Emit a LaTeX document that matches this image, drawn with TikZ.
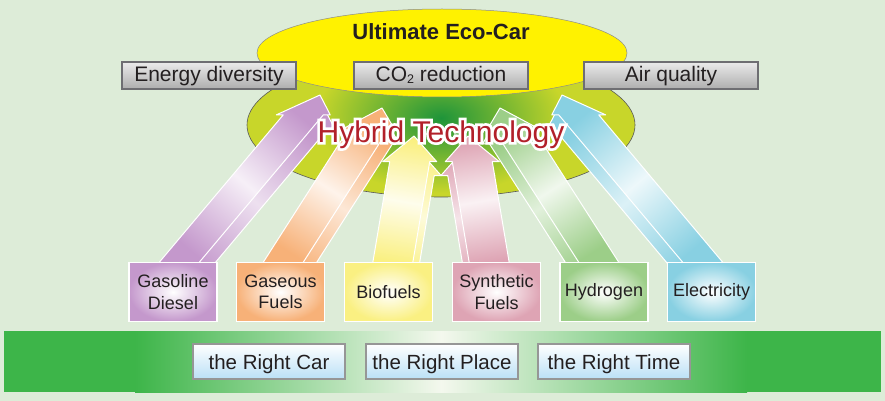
\documentclass[tikz,border=0pt]{standalone}
\usepackage{fontspec}
\setmainfont{Liberation Sans}
\newfontfamily\glowfont[FakeBold=18]{Liberation Sans}
\usetikzlibrary{calc,shapes.geometric}
\pgfdeclarelayer{backlayer}
\pgfdeclarelayer{arrowlayer}
\pgfsetlayers{backlayer,arrowlayer,main}

\definecolor{bgc}{RGB}{221,236,216}
\definecolor{ecoyellow}{RGB}{255,242,0}
\definecolor{olivec}{RGB}{200,214,42}
\definecolor{glowgreen}{RGB}{30,148,58}
\definecolor{hybridred}{RGB}{178,32,42}
\definecolor{purplec}{RGB}{196,152,204}
\definecolor{orangec}{RGB}{247,177,120}
\definecolor{yellowc}{RGB}{250,240,130}
\definecolor{pinkc}{RGB}{222,164,180}
\definecolor{greenc}{RGB}{156,206,136}
\definecolor{cyanc}{RGB}{136,208,226}
\definecolor{bandgreen}{RGB}{61,181,73}
\definecolor{bandwhite}{RGB}{244,248,238}
\definecolor{topborder}{RGB}{110,110,114}
\definecolor{boxblue}{RGB}{186,224,246}
\definecolor{boxgray}{RGB}{150,150,150}
\definecolor{textdark}{RGB}{35,31,32}

\newcommand\arrowoutline[3]{($(#1)+(-20,0)+(#3)$) -- ($(h)+(-20,0)+(#3)$) -- ($(h)+(-27,0)+(#3)$) -- ($(#2)+(#3)$) -- ($(h)+(27,0)+(#3)$) -- ($(h)+(20,0)+(#3)$) -- ($(#1)+(20,0)+(#3)$) -- cycle}
\newcommand\fuelarrow[5]{%
  \coordinate (h) at ($(#2)!26pt!(#1)$);
  \shadedraw[top color=#3, bottom color=#3, middle color=#3!30!white, shading angle=#4, draw=white, line width=1pt, line join=round] \arrowoutline{#1}{#2}{#5};
  \shadedraw[top color=#3, bottom color=#3, middle color=#3!15!white, shading angle=#4, draw=white, line width=1pt, line join=round] \arrowoutline{#1}{#2}{0,0};
}

\begin{document}
\begin{tikzpicture}[x=1pt,y=1pt,
  topbox/.style={draw=topborder, line width=1.8pt, top color=white!92!black, bottom color=white!68!black, minimum width=174pt, minimum height=27pt, inner sep=0pt, font=\fontsize{21}{21}\selectfont, text=textdark, text height=15pt, text depth=2pt},
  fuelbox/.style={draw=white, line width=1.3pt, inner color=white, minimum width=88pt, minimum height=59pt, inner sep=0pt, align=center, font=\fontsize{18}{21.5}\selectfont, text=textdark},
  rightbox/.style={draw=boxgray, line width=1.5pt, top color=white, bottom color=boxblue, minimum width=152pt, minimum height=35pt, inner sep=0pt, font=\fontsize{20.5}{20.5}\selectfont, text=textdark, text height=17pt, text depth=2pt},
]
\useasboundingbox (0,0) rectangle (885,-401);
\begin{pgfonlayer}{backlayer}
  \fill[bgc] (0,0) rectangle (885,-401);
  \node[ellipse, fill=olivec, minimum width=388pt, minimum height=144pt, inner sep=0pt] (hyb) at (441,-125) {};
  \begin{scope}
    \clip (441,-125) ellipse (194 and 72);
    \shade[inner color=glowgreen, outer color=olivec] (441,-118) ellipse (125 and 75);
  \end{scope}
  \draw[black!65, line width=0.6pt] (441,-125) ellipse (194 and 72);
  \node[ellipse, fill=ecoyellow, draw=black!45, line width=0.5pt, minimum width=370pt, minimum height=88pt, inner sep=0pt] (eco) at (442,-53) {};
\end{pgfonlayer}

\node[font=\bfseries\fontsize{22}{22}\selectfont, text=textdark, anchor=base] (ecolabel) at (441,-40) {Ultimate Eco-Car};

\node[topbox] (energy) at (209,-75.5) {Energy diversity};
\node[topbox] (co2) at (441,-75.5) {CO\raisebox{-1.5pt}{\fontsize{12.5}{12.5}\selectfont 2} reduction};
\node[topbox] (air) at (671,-75.5) {Air quality};

\node[font=\glowfont\fontsize{30}{30}\selectfont, text=white, anchor=base] (hybridglow) at (441,-142) {Hybrid Technology};
\node[font=\fontsize{30}{30}\selectfont, text=hybridred, anchor=base] (hybrid) at (441,-142) {Hybrid Technology};

\node[fuelbox, outer color=purplec] (gas) at (173,-292) {Gasoline\\Diesel};
\node[fuelbox, outer color=orangec] (gaseous) at (280.5,-292) {Gaseous\\Fuels};
\node[fuelbox, outer color=yellowc] (bio) at (388.5,-292) {Biofuels};
\node[fuelbox, outer color=pinkc] (synth) at (496.5,-292) {Synthetic\\Fuels};
\node[fuelbox, outer color=greenc] (hydro) at (604,-292) {Hydrogen};
\node[fuelbox, outer color=cyanc] (elec) at (711.5,-292) {Electricity};

\begin{scope}
  \clip (4,-331) rectangle (881,-392);
  \fill[bandgreen] (4,-331) rectangle (881,-392);
  \shade[left color=bandgreen, right color=bandwhite] (135,-330) rectangle (441.5,-393);
  \shade[left color=bandwhite, right color=bandgreen] (441,-330) rectangle (747,-393);
\end{scope}

\node[rightbox] (car) at (269,-361.5) {the Right Car};
\node[rightbox] (place) at (442,-361.5) {the Right Place};
\node[rightbox] (time) at (614,-361.5) {the Right Time};

\coordinate (gasS) at ($(gas.north)+(2,-5.5)$);
\coordinate (gaseousS) at ($(gaseous.north)+(-0.5,-5.5)$);
\coordinate (bioS) at ($(bio.north)+(3.5,-5.5)$);
\coordinate (synthS) at ($(synth.north)+(-6.5,-5.5)$);
\coordinate (hydroS) at ($(hydro.north)+(-2,-5.5)$);
\coordinate (elecS) at ($(elec.north)+(-4.5,-5.5)$);
\coordinate (gasT) at (320,-95);
\coordinate (gaseousT) at (382,-108);
\coordinate (bioT) at (414,-136);
\coordinate (synthT) at (468,-136);
\coordinate (hydroT) at (500,-108);
\coordinate (elecT) at (562,-95);

\begin{pgfonlayer}{arrowlayer}
  \fuelarrow{gasS}{gasT}{purplec}{-40}{4.5,-14}
  \fuelarrow{gaseousS}{gaseousT}{orangec}{-32.5}{4.5,-14}
  \fuelarrow{bioS}{bioT}{yellowc}{-9.5}{4.5,-14}
  \fuelarrow{synthS}{synthT}{pinkc}{9.5}{-4.5,-14}
  \fuelarrow{hydroS}{hydroT}{greenc}{32.5}{-4.5,-14}
  \fuelarrow{elecS}{elecT}{cyanc}{40}{-4.5,-14}
\end{pgfonlayer}
\end{tikzpicture}
\end{document}
